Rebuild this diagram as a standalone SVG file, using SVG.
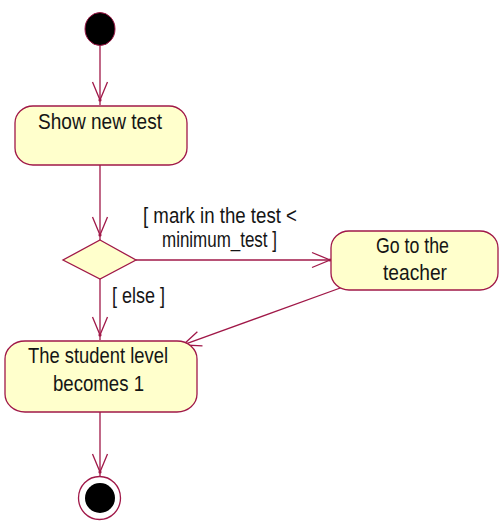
<svg xmlns="http://www.w3.org/2000/svg" width="499" height="522" viewBox="0 0 499 522">
  <defs>
    <style>
      .edge { fill: none; stroke: #a01848; stroke-width: 1.3; marker-end: url(#open); }
      .act { fill: #ffffcc; stroke: #a01848; stroke-width: 1.3; }
      .lbl { font-family: "Liberation Sans", Arial, sans-serif; font-size: 22px; fill: #151515; }
    </style>
    <!-- open V arrowhead with a small dot at its tip -->
    <marker id="open" markerUnits="userSpaceOnUse" viewBox="-20 -10 27 20" markerWidth="27" markerHeight="20" refX="5" refY="0" orient="auto" overflow="visible">
      <path d="M-18,-7.5 L0,0 L-18,7.5" fill="none" stroke="#a01848" stroke-width="1.3"/>
      <circle cx="0" cy="0" r="1.6" fill="#a01848"/>
    </marker>
  </defs>

  <rect width="499" height="522" fill="#ffffff"/>

  <g id="connectors">
    <path class="edge" d="M100,45 V105"/>
    <path class="edge" d="M100,165 V240"/>
    <path class="edge" d="M136,260 H335"/>
    <path class="edge" d="M100,279 V340"/>
    <path class="edge" d="M343,287 L178.3,346.7"/>
    <path class="edge" d="M100,412 V477"/>
    <text class="lbl" x="143" y="223" textLength="154" lengthAdjust="spacingAndGlyphs">[ mark in the test &lt;</text>
    <text class="lbl" x="162" y="247" textLength="115" lengthAdjust="spacingAndGlyphs">minimum_test ]</text>
    <text class="lbl" x="112" y="303" textLength="53" lengthAdjust="spacingAndGlyphs">[ else ]</text>
  </g>

  <g id="start">
    <ellipse cx="100" cy="29" rx="15" ry="16.5" fill="#000000" stroke="#a01848" stroke-width="1"/>
  </g>

  <g id="show-new-test">
    <rect class="act" x="15" y="106" width="172" height="59" rx="18" ry="17"/>
    <text class="lbl" x="38" y="129" textLength="124" lengthAdjust="spacingAndGlyphs">Show new test</text>
  </g>

  <g id="decision">
    <polygon class="act" points="100,240 136,260 100,279 63,260"/>
  </g>

  <g id="go-to-teacher">
    <rect class="act" x="331" y="231" width="167" height="59" rx="18" ry="17"/>
    <text class="lbl" x="376" y="253" textLength="73" lengthAdjust="spacingAndGlyphs">Go to the</text>
    <text class="lbl" x="383" y="280" textLength="64" lengthAdjust="spacingAndGlyphs">teacher</text>
  </g>

  <g id="student-level">
    <rect class="act" x="5" y="341" width="192" height="71" rx="20" ry="18"/>
    <text class="lbl" x="28" y="363" textLength="140" lengthAdjust="spacingAndGlyphs">The student level</text>
    <text class="lbl" x="53" y="391" textLength="91" lengthAdjust="spacingAndGlyphs">becomes 1</text>
  </g>

  <g id="end">
    <ellipse cx="99.5" cy="498" rx="21" ry="21.5" fill="#ffffff" stroke="#a01848" stroke-width="1.3"/>
    <circle cx="100" cy="498" r="15" fill="#000000"/>
  </g>
</svg>
